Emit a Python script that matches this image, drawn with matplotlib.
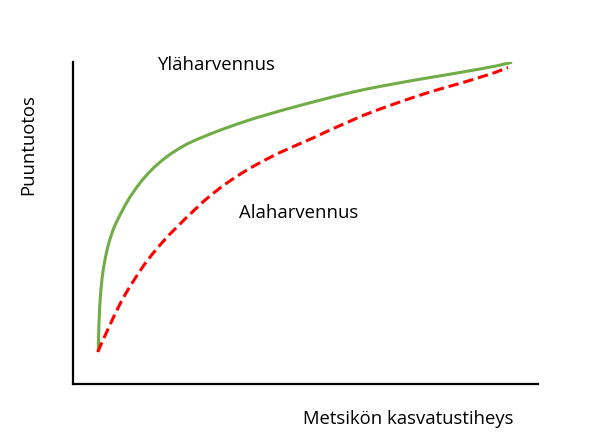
import matplotlib.pyplot as plt

# pisteet luettu kuvasta (x = kasvatustiheys, y = puuntuotos), suhteellisia yksiköitä
ylä_x = [25.3, 25.6, 26.1, 26.8, 27.8, 29.0, 30.5, 32.3, 34.5, 37.0, 40.0, 43.5, 47.5,
         52.0, 57.0, 62.5, 68.5, 75.0, 82.0, 89.5, 97.5, 106.0, 115.0, 125.0, 136.0,
         147.0, 163.7, 180.0, 197.0, 212.0, 225.0, 240.0, 257.0, 274.0, 290.0, 307.0,
         340.0, 374.0, 407.0, 424.0, 439.0]
ylä_y = [32.3, 48.0, 64.0, 79.0, 93.0, 105.0, 116.0, 126.0, 136.0, 145.0, 154.0, 162.0,
         170.0, 178.5, 187.0, 195.0, 203.0, 210.5, 217.5, 224.0, 230.0, 235.5, 240.5,
         245.0, 249.5, 253.8, 259.8, 265.2, 270.2, 274.5, 278.0, 282.0, 286.4, 290.6,
         294.2, 297.6, 303.6, 309.3, 315.0, 318.2, 321.8]

ala_x = [24.7, 30.0, 36.0, 42.0, 49.0, 56.0, 63.0, 71.0, 79.0, 87.0, 95.0, 104.0, 113.0,
         122.0, 131.0, 140.0, 149.0, 159.0, 169.0, 180.0, 192.0, 207.0, 225.0, 240.0,
         257.0, 274.0, 290.0, 307.0, 324.0, 340.0, 357.0, 374.0, 390.0, 407.0, 422.0, 435.0]
ala_y = [32.0, 44.0, 57.0, 70.0, 84.0, 96.0, 107.0, 119.0, 129.5, 139.0, 148.0, 157.0,
         166.0, 174.5, 183.0, 190.5, 197.5, 204.5, 211.0, 217.5, 224.0, 231.5, 239.5,
         246.0, 254.0, 261.5, 268.5, 275.0, 281.0, 286.5, 292.0, 297.0, 301.5, 306.7,
         311.5, 316.5]

plt.rcParams['font.family'] = ['Open Sans', 'DejaVu Sans']

fig = plt.figure(figsize=(5.92, 4.43), dpi=100)
ax = fig.add_axes([73 / 592, 59 / 443, 465 / 592, 322 / 443])

ax.plot(ylä_x, ylä_y, color='#70AD47', lw=2.2, solid_capstyle='butt', solid_joinstyle='round')
ax.plot(ala_x, ala_y, color='#FF0000', lw=2.2, linestyle=(0, (3.4, 1.6)))

ax.set_xlim(0, 465)
ax.set_ylim(0, 322)
ax.set_xticks([])
ax.set_yticks([])
for side in ['top', 'right']:
    ax.spines[side].set_visible(False)
for side in ['left', 'bottom']:
    ax.spines[side].set_linewidth(1.6)

fs = 13.3
fig.text(216 / 592, 1 - 65 / 443, 'Yläharvennus', ha='center', va='center', fontsize=fs)
fig.text(299 / 592, 1 - 213 / 443, 'Alaharvennus', ha='center', va='center', fontsize=fs)
fig.text(408 / 592, 1 - 419 / 443, 'Metsikön kasvatustiheys', ha='center', va='center', fontsize=fs)
fig.text(28 / 592, 1 - 145 / 443, 'Puuntuotos', ha='center', va='center',
         rotation=90, fontsize=fs)

fig.savefig('out.png', dpi=100)
